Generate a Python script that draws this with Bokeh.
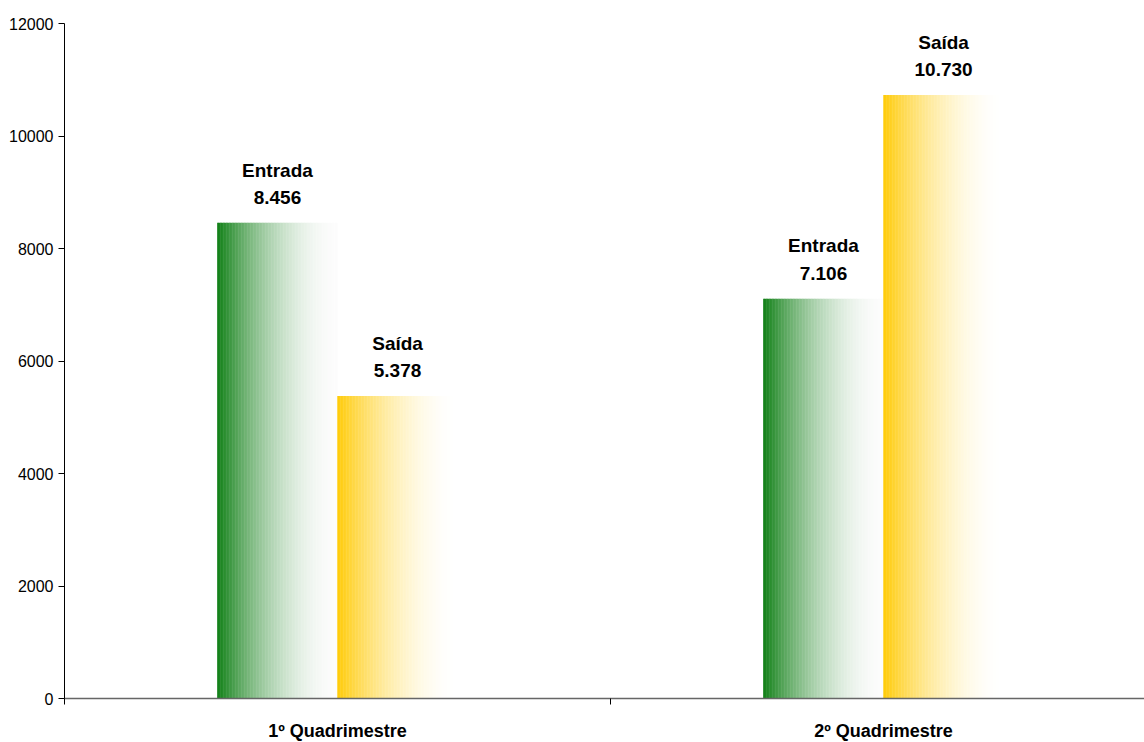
import numpy as np
from bokeh.plotting import figure
from bokeh.models import Range1d, FixedTicker, ColumnDataSource
from bokeh.embed import file_html
from bokeh.resources import INLINE
from bokeh.core.properties import value

# ---- data ----
categories = ["1º Quadrimestre", "2º Quadrimestre"]
series_names = ["Entrada", "Saída"]
entrada = [8456, 7106]
saida = [5378, 10730]
y_ticks = [0, 2000, 4000, 6000, 8000, 10000, 12000]

# ---- style ----
BAR_W = 0.22
N_STRIPS = 80
start_colors = {"Entrada": (16, 128, 22), "Saída": (255, 203, 8)}
end_colors = {"Entrada": (252, 252, 252), "Saída": (255, 255, 255)}
FONT = "Liberation Sans"

p = figure(frame_width=1080, frame_height=675,
           min_border_left=64, min_border_right=0,
           min_border_top=23, min_border_bottom=44,
           x_range=Range1d(0, 1080 / 546), y_range=Range1d(0, 12000),
           output_backend="svg", toolbar_location=None,
           background_fill_color="white", border_fill_color="white")
p.outline_line_color = None
p.xgrid.visible = False
p.ygrid.visible = False


def hexcol(c):
    return "#%02x%02x%02x" % tuple(int(round(v)) for v in c)


label_x, label_y, label_t = [], [], []
for s_idx, (name, vals) in enumerate(zip(series_names, [entrada, saida])):
    xs, tops, cols = [], [], []
    sc = np.array(start_colors[name], float)
    ec = np.array(end_colors[name], float)
    sw = BAR_W / N_STRIPS
    for ci, v in enumerate(vals):
        center = ci + 0.5 + (s_idx - 0.5) * BAR_W
        left = center - BAR_W / 2
        for k in range(N_STRIPS):
            t = (k + 0.5) / N_STRIPS
            f = 1 - (1 - t) ** 1.9
            xs.append(left + (k + 0.5) * sw)
            tops.append(v)
            cols.append(hexcol(sc + (ec - sc) * f))
        label_x.append(center)
        label_y.append(v)
        label_t.append(f"{name}\n{v:,}".replace(",", "."))
    src = ColumnDataSource(dict(x=xs, top=tops, color=cols))
    p.vbar(x="x", top="top", bottom=0, width=sw * 1.3, fill_color="color",
           line_color=None, source=src)

p.text(x=label_x, y=label_y, text=label_t, text_align="center",
       text_baseline="bottom", y_offset=-15,
       text_font=value(FONT), text_font_style="bold",
       text_font_size="19px", text_line_height=1.3, text_color="black")

# y axis
ya = p.yaxis[0]
ya.ticker = FixedTicker(ticks=y_ticks)
ya.major_tick_out = 6
ya.major_tick_in = 0
ya.minor_tick_out = 0
ya.minor_tick_in = 0
ya.axis_line_color = "black"
ya.major_tick_line_color = "black"
ya.major_label_text_font = FONT
ya.major_label_text_font_size = "16px"
ya.major_label_text_color = "black"
ya.major_label_standoff = 5

# x axis
xa = p.xaxis[0]
xa.ticker = FixedTicker(ticks=[i + 0.5 for i in range(len(categories))],
                        minor_ticks=list(range(len(categories) + 1)))
xa.major_label_overrides = {i + 0.5: c for i, c in enumerate(categories)}
xa.major_tick_out = 0
xa.major_tick_in = 0
xa.minor_tick_out = 6
xa.minor_tick_in = 0
xa.minor_tick_line_color = "black"
xa.axis_line_color = "#666666"
xa.axis_line_width = 1.5
xa.major_label_text_font = FONT
xa.major_label_text_font_style = "bold"
xa.major_label_text_font_size = "18px"
xa.major_label_text_color = "black"
xa.major_label_standoff = 16

open("out.html", "w").write(file_html(p, INLINE))
